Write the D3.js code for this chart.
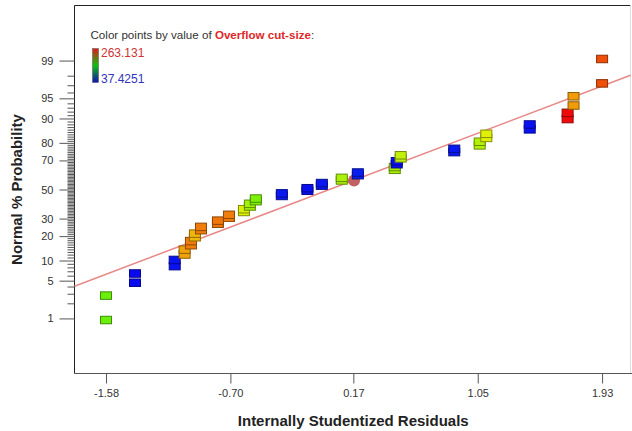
<!DOCTYPE html>
<html>
<head>
<meta charset="utf-8">
<script src="https://cdn.jsdelivr.net/npm/d3@7"></script>
<style>
    body { margin: 0; background: #fff; }
    svg { display: block; font-family: "Liberation Sans", Arial, sans-serif; }
</style>
</head>
<body>
<svg id="chart" width="632" height="431"></svg>
<script>
// Internally studentized residuals, one per run (sorted). Each run is plotted twice.
const residuals = [-1.58, -1.375, -1.094, -1.024, -0.979, -0.951, -0.908, -0.788, -0.710,
    -0.604, -0.562, -0.520, -0.336, -0.155, -0.053, 0.088, 0.202, 0.463, 0.477, 0.505,
    0.884, 1.064, 1.111, 1.418, 1.686, 1.728, 1.93];
// Overflow cut-size of each run (used for the point colour)
const cutSize = [173.8, 37.4251, 39.5, 225.5, 234.9, 220.8, 234.9, 236.8, 234.9,
    202.0, 187.9, 178.5, 41.2, 38.6, 40.3, 189.8, 42.0, 189.8, 38.1, 195.4,
    40.9, 191.6, 202.9, 39.2, 263.131, 227.4, 246.2];
const copies = 2;

const xTicks = [-1.58, -0.70, 0.17, 1.05, 1.93];
const yTicks = [1, 5, 10, 20, 30, 50, 70, 80, 90, 95, 99];
const yMinor = d3.range(1, 100).filter((p) => !yTicks.includes(p));

// reference line, given by its two ends (residual, % probability)
const lineResid = [-1.803, 2.131];
const linePct = [4.05, 98.04];

// the round marker near the middle
const markResid = [0.175];
const markPct = [56.4];

const cutMin = 37.4251, cutMax = 263.131;

// inverse normal cdf (Acklam)
function probit(p) {
    const a = [-3.969683028665376e+01, 2.209460984245205e+02, -2.759285104469687e+02, 1.383577518672690e+02, -3.066479806614716e+01, 2.506628277459239e+00];
    const b = [-5.447609879822406e+01, 1.615858368580409e+02, -1.556989798598866e+02, 6.680131188771972e+01, -1.328068155288572e+01];
    const c = [-7.784894002430293e-03, -3.223964580411365e-01, -2.400758277161838e+00, -2.549732539343734e+00, 4.374664141464968e+00, 2.938163982698783e+00];
    const d = [7.784695709041462e-03, 3.224671290700398e-01, 2.445134137142996e+00, 3.754408661907416e+00];
    const pl = 0.02425;
    let q, r;
    if (p < pl) {
        q = Math.sqrt(-2 * Math.log(p));
        return (((((c[0] * q + c[1]) * q + c[2]) * q + c[3]) * q + c[4]) * q + c[5]) / ((((d[0] * q + d[1]) * q + d[2]) * q + d[3]) * q + 1);
    }
    if (p > 1 - pl) {
        q = Math.sqrt(-2 * Math.log(1 - p));
        return -(((((c[0] * q + c[1]) * q + c[2]) * q + c[3]) * q + c[4]) * q + c[5]) / ((((d[0] * q + d[1]) * q + d[2]) * q + d[3]) * q + 1);
    }
    q = p - 0.5;
    r = q * q;
    return (((((a[0] * r + a[1]) * r + a[2]) * r + a[3]) * r + a[4]) * r + a[5]) * q / (((((b[0] * r + b[1]) * r + b[2]) * r + b[3]) * r + b[4]) * r + 1);
}

const svg = d3.select("#chart");
const plotLeft = 74.5, plotRight = 630.5, plotTop = 5.5, plotBottom = 373.5;

const x = d3.scaleLinear().domain([-1.803, 2.131]).range([plotLeft, plotRight]);
// y works on the normal score; percent is turned into z with probit
const z = d3.scaleLinear().domain([-3.32, 3.32]).range([plotBottom, plotTop]);
const yPct = (p) => z(probit(p / 100));

// colour: hue runs from blue (low) to red (high)
const hue = d3.scaleLinear().domain([cutMin, cutMax]).range([240, 0]);
const fillOf = (v) => d3.hsl(hue(v), 0.92, 0.49).formatHex();

// build the points: each run twice, ranked, plotting position (i - 0.5) / n
const points = [];
residuals.forEach((r, k) => {
    for (let c = 0; c < copies; c++) points.push({ r: r, cut: cutSize[k] });
});
points.forEach((d, i) => { d.p = (i + 0.5) / points.length * 100; });

// frame
svg.append("line").attr("x1", plotLeft).attr("x2", plotRight).attr("y1", plotTop).attr("y2", plotTop).attr("stroke", "#222");
svg.append("line").attr("x1", plotLeft).attr("x2", plotLeft).attr("y1", plotTop).attr("y2", plotBottom).attr("stroke", "#222");
svg.append("line").attr("x1", plotRight).attr("x2", plotRight).attr("y1", plotTop).attr("y2", plotBottom).attr("stroke", "#ddd");
svg.append("line").attr("x1", plotLeft).attr("x2", 632).attr("y1", plotBottom).attr("y2", plotBottom).attr("stroke", "#555");

// x axis (plain hyphen for negatives)
const xAxis = svg.append("g")
    .attr("transform", `translate(0,${plotBottom})`)
    .call(d3.axisBottom(x).tickValues(xTicks).tickFormat((d) => d.toFixed(2)).tickSize(10).tickSizeOuter(0));
xAxis.select(".domain").remove();
xAxis.selectAll("line").attr("stroke", "#555");
xAxis.selectAll("text").attr("dy", null).attr("y", 23).attr("fill", "#333").style("font-size", "11px").style("font-family", "inherit");

// y axis, minor ticks first
const yMinorAxis = svg.append("g")
    .attr("transform", `translate(${plotLeft},0)`)
    .call(d3.axisLeft(z).tickValues(yMinor.map((p) => probit(p / 100))).tickFormat("").tickSize(7).tickSizeOuter(0));
yMinorAxis.select(".domain").remove();
yMinorAxis.selectAll("line").attr("stroke", "#555");

const yAxis = svg.append("g")
    .attr("transform", `translate(${plotLeft},0)`)
    .call(d3.axisLeft(z).tickValues(yTicks.map((p) => probit(p / 100))).tickFormat((d, i) => yTicks[i]).tickSize(15).tickSizeOuter(0));
yAxis.select(".domain").remove();
yAxis.selectAll("line").attr("stroke", "#555");
yAxis.selectAll("text").attr("x", -21).attr("fill", "#333").style("font-size", "11px").style("font-family", "inherit");

// axis titles
svg.append("text")
    .attr("x", (plotLeft + 632) / 2).attr("y", 426)
    .attr("text-anchor", "middle")
    .style("font-size", "15px").style("font-weight", "bold").attr("fill", "#222")
    .text("Internally Studentized Residuals");
svg.append("text")
    .attr("transform", `translate(22,${z(0)}) rotate(-90)`)
    .attr("text-anchor", "middle")
    .style("font-size", "15px").style("font-weight", "bold").attr("fill", "#222")
    .text("Normal % Probability");

// reference line
svg.append("line")
    .attr("x1", x(lineResid[0])).attr("y1", yPct(linePct[0]))
    .attr("x2", x(lineResid[1])).attr("y2", yPct(linePct[1]))
    .attr("stroke", "#e88888").attr("stroke-width", 1.5);

// round marker
svg.selectAll(".mark")
    .data(markResid)
    .enter()
    .append("circle")
    .attr("cx", (d) => x(d))
    .attr("cy", (d, i) => yPct(markPct[i]))
    .attr("r", 6)
    .attr("fill", "#c06060");

// points
svg.selectAll(".pt")
    .data(points)
    .enter()
    .append("rect")
    .attr("class", "pt")
    .attr("x", (d) => x(d.r) - 5.5)
    .attr("y", (d) => yPct(d.p) - 3.75)
    .attr("width", 11)
    .attr("height", 7.5)
    .attr("fill", (d) => fillOf(d.cut))
    .attr("stroke", (d) => d3.color(fillOf(d.cut)).darker(1.5).formatHex())
    .attr("stroke-width", 1);

// colour legend
const grad = svg.append("defs").append("linearGradient")
    .attr("id", "cutGrad").attr("x1", 0).attr("x2", 0).attr("y1", 0).attr("y2", 1);
grad.append("stop").attr("offset", "0%").attr("stop-color", "#e01818");
grad.append("stop").attr("offset", "50%").attr("stop-color", "#10c010");
grad.append("stop").attr("offset", "100%").attr("stop-color", "#1010b0");

svg.append("rect")
    .attr("x", 92.5).attr("y", 48.5).attr("width", 6).attr("height", 34)
    .attr("fill", "url(#cutGrad)").attr("stroke", "#555").attr("stroke-width", 0.5);

const legendTitle = svg.append("text")
    .attr("x", 90.5).attr("y", 38.5)
    .style("font-size", "11.6px").attr("fill", "#333");
legendTitle.append("tspan").text("Color points by value of ");
legendTitle.append("tspan").attr("fill", "#e02828").style("font-weight", "bold").text("Overflow cut-size");
legendTitle.append("tspan").text(":");

svg.append("text").attr("x", 101).attr("y", 57)
    .style("font-size", "12px").attr("fill", "#cc3333").text(cutMax);
svg.append("text").attr("x", 101).attr("y", 83)
    .style("font-size", "12px").attr("fill", "#3333bb").text(cutMin);
</script>
</body>
</html>
